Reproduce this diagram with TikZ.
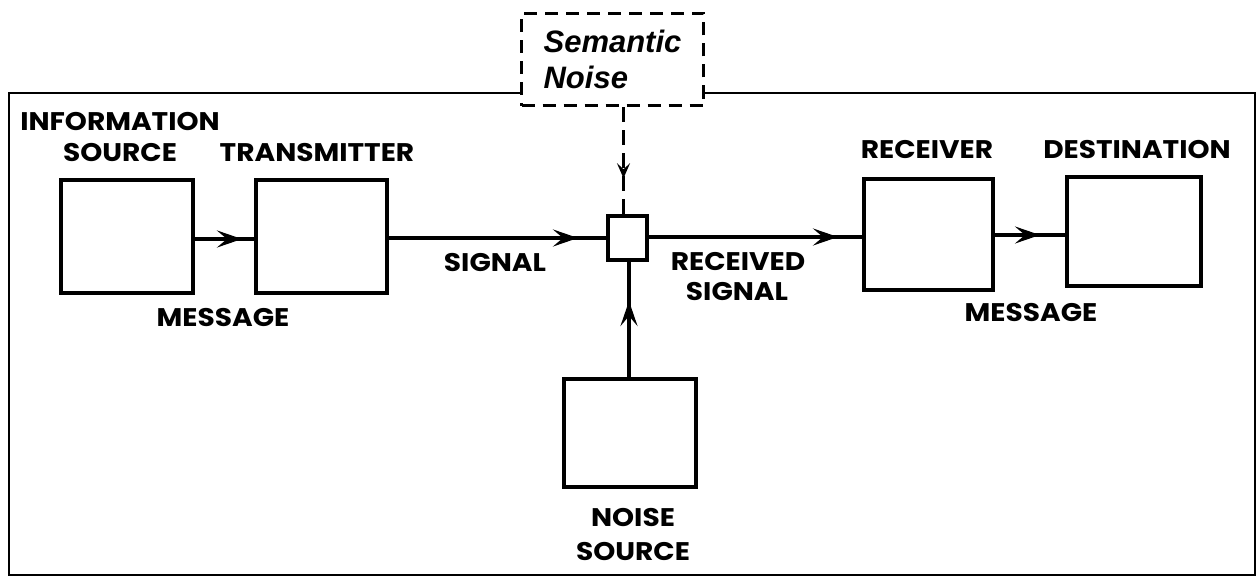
\documentclass[tikz,border=0pt]{standalone}
\usepackage{fontspec}
\newfontfamily\capfont{Poppins}[FakeStretch=1.1]
\newfontfamily\semfont{Liberation Sans}
\usetikzlibrary{arrows.meta,decorations.markings}
\begin{document}
\begin{tikzpicture}[x=1pt,y=-1pt,
  blk/.style={draw,line width=4pt,inner sep=0pt},
  lbl/.style={inner sep=0pt,font=\capfont\bfseries\fontsize{25.5}{30}\selectfont},
  conn/.style={line width=3.2pt},
  tipat/.style={postaction={decorate},decoration={markings,mark=at position #1 with {\arrow{Stealth[length=25pt,width=17pt,inset=10pt]}}}},
  dtipat/.style={postaction={decorate},decoration={markings,mark=at position #1 with {\arrow{Stealth[length=15pt,width=13pt,inset=6pt]}}}}
]
\useasboundingbox (0,0) rectangle (1259,578);
\fill[white] (0,0) rectangle (1259,578);
% outer frame
\draw[line width=1.8pt] (9,93) rectangle (1255,575);
% boxes
\node[blk,minimum width=132,minimum height=113] (info) at (127,236.5) {};
\node[blk,minimum width=131,minimum height=113] (trans) at (321.5,236.5) {};
\node[blk,minimum width=39,minimum height=44] (mix) at (627.5,238) {};
\node[blk,minimum width=129,minimum height=111] (rec) at (928.5,234.5) {};
\node[blk,minimum width=134,minimum height=109] (dest) at (1134,231.5) {};
\node[blk,minimum width=132,minimum height=108] (noise) at (630,433) {};
\node[draw,fill=white,line width=3.5pt,dash pattern=on 13pt off 8pt,minimum width=182,minimum height=92,inner sep=0pt,align=left,
      font=\semfont\bfseries\itshape\fontsize{31}{36}\selectfont] (sem) at (612.5,59.5) {Semantic\\Noise};
% connectors
\draw[conn,tipat=47pt] (info.east |- 0,239) -- (trans.west |- 0,239);
\draw[conn,tipat=189pt] (trans.east |- 0,238) -- (mix.west |- 0,238);
\draw[conn,tipat=189pt] (mix.east |- 0,237) -- (rec.west |- 0,237);
\draw[conn,tipat=45pt] (rec.east |- 0,235) -- (dest.west |- 0,235);
\draw[conn,tipat=76pt] (noise.north -| 629,0) -- (mix.south -| 629,0);
\draw[conn,line width=3.2pt,dash pattern=on 15pt off 8pt,dtipat=71pt] (sem.south -| 623.5,0) -- (mix.north -| 623.5,0);
% labels
\node[lbl] (tinfo) at (120,122) {INFORMATION};
\node[lbl] (tsrc) at (120,153) {SOURCE};
\node[lbl] (ttrans) at (317,153) {TRANSMITTER};
\node[lbl] (tmsg1) at (223,318) {MESSAGE};
\node[lbl] (tsig) at (495,263) {SIGNAL};
\node[lbl] (trecd) at (738,262) {RECEIVED};
\node[lbl] (trsig) at (737,292) {SIGNAL};
\node[lbl] (trec) at (927,150) {RECEIVER};
\node[lbl] (tdest) at (1137,150) {DESTINATION};
\node[lbl] (tmsg2) at (1031,313) {MESSAGE};
\node[lbl] (tnoise) at (633,518) {NOISE};
\node[lbl] (tnsrc) at (633,552) {SOURCE};
\end{tikzpicture}
\end{document}
